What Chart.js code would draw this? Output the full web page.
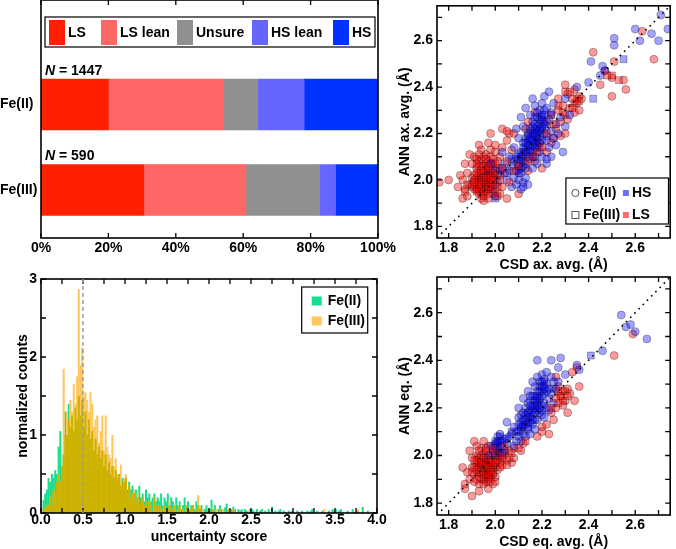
<!DOCTYPE html>
<html>
<head>
<meta charset="utf-8">
<script src="https://cdn.jsdelivr.net/npm/chart.js@4.4.1/dist/chart.umd.min.js"></script>
<style>
  html, body { margin: 0; padding: 0; background: #fff; }
  #wrap { position: relative; width: 676px; height: 549px; overflow: hidden; }
  canvas { position: absolute; }
</style>
</head>
<body>
<div id="wrap">
  <canvas id="spinChart" width="400" height="270" style="left:0;top:0"></canvas>
  <canvas id="scoreChart" width="390" height="279" style="left:0;top:270px"></canvas>
  <canvas id="axChart" width="296" height="280" style="left:380px;top:0"></canvas>
  <canvas id="eqChart" width="296" height="279" style="left:380px;top:270px"></canvas>
</div>
<script>
// ---- spin-state split (percent of each set) ----
const rows = ['Fe(II)', 'Fe(III)'];
const rowCounts = [1447, 590];
const spinClasses = ['LS', 'LS lean', 'Unsure', 'HS lean', 'HS'];
const lsShare = [20.0, 30.5];
const lsLeanShare = [33.9, 30.3];
const unsureShare = [10.4, 21.9];
const hsLeanShare = [13.8, 4.7];
const hsShare = [21.9, 12.6];
const shareTicks = [0, 20, 40, 60, 80, 100];

// ---- uncertainty histogram, bins of 0.02 from 0 to 4 ----
const scoreBinWidth = 0.02;
const scoreCutoff = 0.5;
const scoreTicks = [0, 0.25, 0.5, 0.75, 1, 1.25, 1.5, 1.75, 2, 2.25, 2.5, 2.75, 3, 3.25, 3.5, 3.75, 4];
const countTicks = [0, 0.5, 1, 1.5, 2, 2.5, 3];
const fe2Hist = [
  0, 0.17, 0.25, 0.3, 0.45, 0.4, 0.5, 0.45, 0.55, 0.5,
  0.85, 1.05, 0.6, 0.75, 1.3, 1.0, 1.4, 1.1, 1.25, 1.05,
  1.35, 1.2, 1.5, 1.25, 1.45, 1.1, 1.3, 1.0, 1.2, 0.95,
  1.05, 0.8, 0.95, 0.75, 0.85, 0.7, 0.8, 0.6, 0.75, 0.55,
  0.65, 0.5, 0.6, 0.45, 0.55, 0.45, 0.5, 0.35, 0.45, 0.4,
  0.45, 0.3, 0.4, 0.3, 0.35, 0.25, 0.3, 0.2, 0.35, 0.2,
  0.25, 0.15, 0.3, 0.2, 0.25, 0.15, 0.2, 0.25, 0.15, 0.2,
  0.15, 0.25, 0.1, 0.2, 0.15, 0.25, 0.1, 0.2, 0.15, 0.1,
  0.2, 0.1, 0.15, 0.05, 0.1, 0.2, 0.1, 0.15, 0.05, 0.1,
  0.1, 0.05, 0.15, 0.1, 0.05, 0.1, 0, 0.05, 0.1, 0.05,
  0.05, 0.17, 0.05, 0.1, 0, 0.05, 0.1, 0.05, 0, 0.07,
  0.12, 0.05, 0, 0.05, 0.08, 0.05, 0, 0.05, 0.03, 0.05,
  0, 0.05, 0.03, 0, 0.05, 0.05, 0.03, 0, 0.05, 0,
  0.03, 0.05, 0, 0.03, 0, 0.05, 0, 0.08, 0, 0.03,
  0, 0.03, 0.05, 0, 0.03, 0, 0, 0.03, 0, 0.03,
  0, 0, 0.03, 0, 0, 0.03, 0, 0, 0.03, 0,
  0.03, 0.05, 0, 0, 0.03, 0, 0, 0.03, 0, 0,
  0, 0.03, 0, 0.05, 0.03, 0.05, 0, 0.03, 0.05, 0,
  0, 0, 0.03, 0, 0, 0.05, 0, 0, 0.03, 0,
  0, 0.08, 0, 0, 0.03, 0, 0, 0, 0, 0
];
const fe3Hist = [
  0, 0.05, 0.05, 0.1, 0.1, 0.2, 0.1, 0.3, 0.25, 0.4,
  0.5, 0.4, 0.6, 1.85, 1.0, 1.3, 1.2, 1.45, 1.3, 1.65,
  1.4, 1.75, 2.87, 1.9, 2.12, 1.5, 1.55, 1.45, 1.3, 1.55,
  1.4, 1.1, 1.2, 1.25, 0.9, 1.05, 1.25, 0.8, 1.25, 0.85,
  0.75, 0.7, 1.0, 0.6, 0.7, 0.5, 0.5, 0.62, 0.4, 0.45,
  0.5, 0.25, 0.35, 0.2, 0.25, 0.3, 0.15, 0.25, 0.1, 0.15,
  0.2, 0.1, 0.15, 0.05, 0.15, 0.1, 0, 0.2, 0.1, 0.05,
  0.1, 0, 0.05, 0.1, 0, 0.05, 0.15, 0, 0.05, 0.1,
  0, 0.05, 0.1, 0, 0.05, 0, 0.1, 0.05, 0, 0.05,
  0.1, 0, 0.05, 0.23, 0.1, 0, 0.05, 0, 0, 0.05,
  0, 0, 0.05, 0, 0.05, 0, 0.05, 0, 0.05, 0,
  0, 0.05, 0, 0, 0.05, 0, 0, 0, 0, 0,
  0, 0, 0, 0.03, 0, 0, 0, 0, 0, 0,
  0, 0, 0, 0, 0, 0, 0, 0, 0, 0,
  0, 0, 0, 0, 0, 0, 0, 0, 0, 0,
  0, 0, 0, 0, 0, 0, 0, 0, 0, 0,
  0, 0, 0, 0, 0, 0, 0, 0, 0.05, 0,
  0, 0, 0, 0, 0, 0, 0, 0, 0, 0,
  0, 0, 0, 0, 0, 0, 0, 0, 0.05, 0,
  0, 0, 0, 0, 0, 0, 0, 0, 0, 0
];

// ---- bond lengths: [CSD, ANN] in Angstrom ----
const bondRange = [1.75, 2.75];
const bondTicks = [1.8, 1.9, 2.0, 2.1, 2.2, 2.3, 2.4, 2.5, 2.6, 2.7];

const axHsII = [
  [2.06,2.04],[2.08,2.01],[2.09,1.98],[2.10,2.00],[2.11,2.03],[2.12,1.99],[2.10,2.06],[2.08,2.08],[2.12,2.08],[2.13,2.05],
  [2.14,2.10],[2.11,2.12],[2.09,2.10],[2.13,2.14],[2.15,2.12],[2.16,2.15],[2.14,2.17],[2.12,2.16],[2.17,2.10],[2.18,2.14],
  [2.16,2.19],[2.18,2.18],[2.19,2.21],[2.17,2.22],[2.15,2.21],[2.20,2.17],[2.21,2.20],[2.19,2.24],[2.20,2.26],[2.22,2.23],
  [2.18,2.27],[2.21,2.28],[2.23,2.26],[2.22,2.31],[2.20,2.33],[2.19,2.30],[2.24,2.29],[2.16,2.25],[2.14,2.20],[2.13,2.18],
  [2.17,2.16],[2.15,2.09],[2.19,2.12],[2.22,2.17],[2.24,2.21],[2.25,2.18],[2.23,2.14],[2.20,2.10],[2.18,2.07],[2.16,2.05],
  [2.21,2.36],[2.23,2.38],[2.25,2.33],[2.17,2.32],[2.15,2.28],[2.12,2.23],[2.10,2.18],[2.08,2.14],[2.06,2.10],[2.04,2.07],
  [2.02,2.02],[2.03,2.05],[2.01,1.99],[2.00,2.04],[2.05,2.00],[2.07,1.97],[2.11,1.96],[2.13,2.01],[2.26,2.24],[2.27,2.20],
  [2.28,2.27],[2.30,2.23],[2.26,2.15],[2.24,2.10],[2.22,2.07],[2.14,1.98],[2.09,2.22],[2.11,2.27],[2.13,2.31],[2.16,2.35],
  [2.03,2.12],[1.98,2.07],[1.97,2.02],[1.99,1.96],[2.00,1.93],[2.15,2.15],[2.17,2.19],[2.19,2.16],[2.12,2.11],[2.10,2.09],
  [2.14,2.13],[2.18,2.21],[2.20,2.23],[2.16,2.12],[2.13,2.07],[2.11,2.05],[2.21,2.25],[2.17,2.27],[2.19,2.19],[2.15,2.17],
  [2.29,2.12],[2.22,2.09],[2.18,2.15],[2.12,1.97],[2.05,2.03],[2.07,2.06],
  [2.15,2.13],[2.17,2.14],[2.16,2.17],[2.18,2.20],[2.19,2.22],[2.14,2.15],[2.12,2.14],[2.20,2.22],[2.21,2.24],[2.18,2.23],
  [2.16,2.23],[2.13,2.12],[2.11,2.10],[2.10,2.11],[2.14,2.19],[2.17,2.24],[2.19,2.26],[2.21,2.30],[2.20,2.28],[2.18,2.29],
  [2.15,2.18],[2.17,2.20],[2.13,2.16],[2.16,2.10],[2.12,2.06],[2.10,2.03],[2.09,2.04],[2.11,2.08],[2.19,2.14],[2.22,2.19],
  [2.35,2.40],[2.40,2.42],[2.41,2.51],[2.45,2.45],[2.46,2.49],[2.47,2.47],[2.51,2.61],[2.51,2.58],[2.60,2.65],[2.62,2.60],
  [2.67,2.63],[2.70,2.60],[2.71,2.71],[2.74,2.65],[2.32,2.28],[2.30,2.35]
];
const axLsII = [
  [1.92,1.98],[1.94,2.00],[1.95,1.97],[1.96,2.02],[1.97,1.99],[1.98,2.04],[1.93,2.03],[1.95,2.06],[1.97,2.08],[1.99,2.01],
  [2.00,1.98],[1.96,1.95],[1.94,1.94],[1.91,1.96],[1.93,2.08],[1.96,2.11],[1.98,2.13],[1.95,2.10],[1.99,2.07],[2.01,2.05],
  [2.02,2.10],[2.00,2.12],[1.92,2.05],[1.90,2.01],[1.89,1.98],[1.88,2.03],[1.90,2.07],[1.87,1.96],[1.86,2.00],[1.88,1.93],
  [1.91,2.10],[1.94,2.13],[1.97,2.16],[2.00,2.15],[2.03,2.14],[2.04,2.03],[2.03,1.97],[2.02,1.94],[1.99,1.94],[1.97,1.92],
  [1.85,2.02],[1.87,2.07],[1.89,2.11],[1.84,1.97],[1.93,2.15],[2.05,2.17],[2.07,2.13],[2.06,2.20],[1.76,1.99],[1.80,2.00],
  [1.86,1.92],[1.95,1.91],[2.10,1.94],[2.05,1.92],[1.98,2.20],[2.08,2.20],[2.03,2.22],[2.05,2.21],[1.93,2.06],[1.96,2.04],
  [1.94,2.09],[1.98,2.10],[1.92,2.01],[1.95,2.03],[1.97,1.97],[2.01,2.08],
  [1.93,1.99],[1.95,2.00],[1.96,1.98],[1.94,2.02],[1.97,2.01],[1.98,2.02],[1.95,2.04],[1.96,2.07],[1.94,2.06],[1.92,2.03],
  [1.97,2.05],[1.99,2.05],[1.98,2.07],[1.96,2.09],[1.93,2.11],[1.91,2.00],[1.90,1.98],[1.92,1.96],[1.94,1.96],[1.97,1.94],
  [2.00,2.00],[2.01,2.02],[1.95,1.99],[1.93,1.94],[1.99,2.09],[1.96,2.00],[1.98,1.97],[1.92,2.09],[2.00,2.07],[1.94,1.92],
  [2.22,2.25],[2.24,2.28],[2.26,2.22],[2.27,2.30],[2.28,2.25],[2.29,2.32],[2.30,2.28],[2.31,2.26],[2.32,2.31],[2.33,2.35],
  [2.34,2.29],[2.35,2.33],[2.36,2.30],[2.30,2.41],[2.34,2.39],[2.36,2.36],[2.27,2.35],[2.31,2.37],[2.25,2.18],[2.28,2.19],[2.30,2.20],
  [2.13,2.22],[2.19,2.16],[2.24,2.16],[2.17,2.08],[2.22,2.12],[2.10,2.07],[2.14,2.04],[2.20,2.05],[2.16,2.20],[2.12,2.10],[2.14,2.25],[2.17,2.29],
  [2.42,2.55],[2.63,2.64],[2.68,2.52],[2.50,2.44],[2.51,2.51],[2.50,2.36],[2.55,2.43],[2.56,2.39],[2.47,2.47],[2.45,2.41],[2.37,2.35]
];
const axLsIII = [
  [1.90,1.97],[1.92,1.95],[1.94,1.97],[1.96,1.99],[1.98,1.96],[2.00,1.95],[2.01,1.97],[1.95,1.93],[1.93,2.00],[1.97,2.02],
  [1.99,2.03],[2.02,2.00],[1.88,1.98],[1.87,1.95],[1.91,2.02],[1.96,1.96],[1.98,1.99],[2.00,2.02],[2.03,2.05],[1.94,2.04],
  [1.92,2.07],[1.97,2.06],[2.05,2.08],[2.08,2.04],[2.10,2.06],[2.14,2.08],[2.18,2.12],[2.20,2.14],[2.16,2.10],[2.06,1.99],
  [1.95,2.01],[1.99,1.98],[1.93,1.96],[2.01,1.93],[1.94,1.99],[1.96,2.01],[1.98,2.01],[1.93,1.98],[1.95,1.95],[1.97,1.97],
  [1.99,2.00],[1.91,1.99],
  [2.30,2.38],[2.32,2.38],[2.35,2.35],[2.34,2.33],[2.33,2.31],[2.27,2.32],[2.29,2.29],[2.25,2.24],[2.22,2.20],[2.50,2.45],
  [2.53,2.43],[2.48,2.45],[2.36,2.34]
];
const axHsIII = [
  [2.00,1.92],[1.96,2.05],[2.02,2.04],[2.12,2.12],[2.18,2.17],[2.15,2.22],[2.20,2.27],[2.55,2.52],[2.42,2.35],[2.24,2.28],
  [2.10,2.04],[2.07,2.09]
];

const eqHsII = [
  [1.99,2.02],[2.00,2.05],[2.01,2.03],[2.02,2.06],[2.03,2.04],[2.01,2.08],[2.04,2.07],[2.00,2.00],[2.03,2.01],[1.98,2.04],
  [2.05,2.05],[2.02,2.09],[1.97,2.00],[2.04,2.02],[2.00,2.03],[2.02,2.01],[2.01,2.05],[2.02,2.04],[2.00,2.04],[2.03,2.06],
  [2.01,2.06],
  [2.09,2.10],[2.10,2.13],[2.11,2.11],[2.12,2.15],[2.13,2.13],[2.11,2.17],[2.14,2.16],[2.15,2.19],[2.13,2.20],[2.16,2.17],
  [2.17,2.21],[2.15,2.23],[2.18,2.19],[2.19,2.23],[2.17,2.25],[2.20,2.21],[2.18,2.27],[2.20,2.29],[2.19,2.31],[2.21,2.26],
  [2.22,2.30],[2.21,2.32],[2.23,2.28],[2.17,2.29],[2.16,2.31],[2.14,2.27],[2.12,2.24],[2.10,2.20],[2.12,2.09],[2.14,2.11],
  [2.16,2.13],[2.18,2.15],[2.20,2.17],[2.22,2.20],[2.23,2.24],[2.19,2.18],[2.15,2.14],[2.13,2.08],[2.11,2.06],[2.09,2.06],
  [2.08,2.12],[2.10,2.16],[2.07,2.09],[2.17,2.11],[2.21,2.22],[2.24,2.26],[2.25,2.31],[2.20,2.34],[2.18,2.33],[2.22,2.35],
  [2.15,2.09],[2.12,2.18],[2.14,2.22],[2.16,2.25],[2.18,2.22],[2.20,2.25],[2.13,2.17],[2.11,2.14],[2.17,2.18],[2.19,2.27],
  [2.24,2.33],[2.26,2.28],[2.21,2.16],[2.23,2.19],[2.08,2.04],[2.06,2.08],[2.25,2.22],[2.16,2.21],[2.18,2.24],[2.20,2.19],
  [2.14,2.14],[2.12,2.12],[2.19,2.29],[2.22,2.27],[2.15,2.25],[2.17,2.15],
  [2.15,2.16],[2.16,2.19],[2.17,2.20],[2.18,2.21],[2.19,2.24],[2.20,2.27],[2.21,2.29],[2.14,2.18],[2.13,2.15],[2.12,2.13],
  [2.17,2.23],[2.18,2.25],[2.19,2.20],[2.16,2.15],[2.14,2.12],[2.11,2.12],[2.10,2.10],[2.15,2.21],[2.21,2.28],[2.20,2.31],
  [2.18,2.40],[2.24,2.40],[2.28,2.41],[2.35,2.38],[2.36,2.36],[2.46,2.44],[2.54,2.59],[2.56,2.54],[2.58,2.55],[2.60,2.52],
  [2.65,2.49],[2.30,2.34],[2.27,2.37],[2.05,2.14],[2.27,2.31]
];
const eqLsII = [
  [1.92,1.96],[1.94,1.98],[1.95,1.94],[1.96,1.97],[1.97,2.00],[1.93,1.93],[1.95,2.01],[1.98,1.95],[1.99,1.98],[1.96,1.92],
  [1.94,1.90],[1.91,1.92],[1.90,1.95],[1.92,2.00],[1.94,2.03],[1.97,2.04],[2.00,1.97],[2.01,1.94],[1.98,1.91],[1.93,1.88],
  [1.89,1.90],[1.88,1.93],[1.90,1.99],[1.92,2.04],[1.95,2.06],[2.02,1.99],[2.03,1.96],[2.04,2.01],[2.05,1.98],[2.00,1.91],
  [1.87,1.88],[1.87,1.86],[1.90,1.83],[1.86,1.95],[1.89,2.02],[1.91,2.06],[1.96,1.89],[2.06,2.02],[2.07,1.97],[2.08,2.03],
  [1.99,1.88],[1.97,1.86],[1.93,1.85],[1.95,1.96],[1.97,1.93],[1.93,1.99],[1.99,1.95],[2.01,2.00],[1.91,1.89],[1.96,2.03],
  [1.93,1.95],[1.95,1.97],[1.96,1.95],[1.94,1.96],[1.97,1.98],[1.98,1.97],[1.95,1.93],[1.93,1.91],[1.96,1.99],[1.94,2.00],
  [1.92,1.98],[1.91,1.95],[1.97,1.91],[1.99,1.92],[2.00,1.95],[1.98,1.93],[1.95,1.88],[1.92,1.90],[1.96,1.94],[2.02,1.97],
  [1.90,1.93],[1.94,1.93],[2.03,1.99],[1.99,2.01],
  [2.12,2.05],[2.11,2.02],[2.18,2.08],[2.23,2.09],[2.20,2.12],[2.24,2.18],[2.26,2.20],[2.28,2.25],[2.29,2.27],[2.27,2.29],
  [2.30,2.23],[2.31,2.28],[2.32,2.26],[2.34,2.23],[2.36,2.29],[2.31,2.18],[2.29,2.21],[2.26,2.33],[2.33,2.35],[2.25,2.15],
  [2.22,2.13],[2.51,2.42],[2.59,2.51],[2.35,2.37],[2.20,2.10],[2.08,1.99]
];
const eqLsIII = [
  [1.93,1.97],[1.95,1.99],[1.97,1.95],[1.99,1.93],[1.96,1.91],[1.94,1.95],[1.98,1.98],[2.00,2.01],[1.92,1.94],[1.97,1.89],
  [1.95,1.90],[1.99,1.96],[2.01,1.98],[2.02,1.95],[1.91,1.98],[1.93,2.02],[2.03,2.00],[2.05,1.96],[1.96,2.02],[1.99,2.03],
  [2.04,2.04],[2.06,1.99],[2.07,2.01],[1.98,1.90],[2.00,1.89],[1.94,1.97],[1.96,1.96],[1.98,1.94],[1.95,1.92],[1.97,1.92],
  [2.00,1.97],
  [2.27,2.27],[2.28,2.25],[2.30,2.27],[2.29,2.23],[2.27,2.22],[2.31,2.25],[2.26,2.24],[2.24,2.20],[2.10,2.03],[2.13,2.06]
];
const eqHsIII = [
  [2.00,2.06],[2.02,2.08],[2.01,2.01],[2.05,2.07],[2.07,2.10],[2.41,2.42],[2.21,2.31],[2.14,2.18],[2.25,2.28],[2.10,2.08]
];

// ---- shared look ----
const FONT = "'Liberation Sans', Arial, sans-serif";
Chart.defaults.font.family = FONT;
Chart.defaults.font.size = 14;
Chart.defaults.font.weight = 'bold';
Chart.defaults.color = '#000';
Chart.defaults.animation = false;
Chart.defaults.plugins.legend.display = false;
Chart.defaults.plugins.tooltip.enabled = false;

const tickFont = { size: 14, weight: 'bold', lineHeight: 1 };
const titleFont = { size: 14, weight: 'bold', lineHeight: 1 };
const noGrid = { display: false, drawTicks: false };

const spinColors = ['#FF2000', '#FF6666', '#909090', '#6666FF', '#0033FF'];
const fe2Color = '#17DE8E';
const fe3Color = '#FFC65C';
const bothColor = '#CBB300';

function fixSize(prop, size) {
  return s => {
    s[prop] = size;
    s.paddingTop = 0; s.paddingBottom = 0; s.paddingLeft = 0; s.paddingRight = 0;
  };
}
function setTicks(values) {
  return s => { s.ticks = values.map(value => ({ value })); };
}
const near = (v, k) => Math.abs(v * k - Math.round(v * k)) < 1e-6;

// box with inward ticks on all four sides
const framePlugin = {
  id: 'frame',
  afterDatasetsDraw(chart, args, opts) {
    const { ctx, chartArea: a } = chart;
    ctx.save();
    ctx.strokeStyle = '#000';
    ctx.lineWidth = 1.3;
    ctx.beginPath();
    if (opts.x) {
      const sx = chart.scales.x;
      sx.ticks.forEach(t => {
        const p = sx.getPixelForValue(t.value);
        ctx.moveTo(p, a.bottom); ctx.lineTo(p, a.bottom - 5);
        ctx.moveTo(p, a.top); ctx.lineTo(p, a.top + 5);
      });
    }
    if (opts.y) {
      const sy = chart.scales.y;
      sy.ticks.forEach(t => {
        const p = sy.getPixelForValue(t.value);
        ctx.moveTo(a.left, p); ctx.lineTo(a.left + 5, p);
        ctx.moveTo(a.right, p); ctx.lineTo(a.right - 5, p);
      });
    }
    ctx.stroke();
    ctx.lineWidth = 1.6;
    ctx.strokeRect(a.left, a.top, a.width, a.height);
    ctx.restore();
  }
};

// ---- top left: stacked spin-state bars ----
const spinShares = [lsShare, lsLeanShare, unsureShare, hsLeanShare, hsShare];

const spinLabelPlugin = {
  id: 'spinLabels',
  afterDatasetsDraw(chart) {
    const { ctx, chartArea: a } = chart;
    const bars = chart.getDatasetMeta(0).data;
    ctx.save();
    ctx.fillStyle = '#000';
    ctx.textBaseline = 'middle';
    bars.forEach((bar, i) => {
      const y = bar.y - bar.height / 2 - 8;
      ctx.font = 'italic bold 14px ' + FONT;
      ctx.fillText('N', a.left + 4, y);
      const w = ctx.measureText('N').width;
      ctx.font = 'bold 14px ' + FONT;
      ctx.fillText(' = ' + rowCounts[i], a.left + 4 + w, y);
      // row name beside its bar
      ctx.fillText(rows[i], chart.scales.y.left, bar.y);
    });
    ctx.restore();
  },
  afterDraw(chart) {
    const { ctx, chartArea: a } = chart;
    const slots = [8, 60, 136, 211, 292];
    ctx.save();
    ctx.fillStyle = '#fff';
    ctx.fillRect(a.left + 4, a.top + 17, 330, 30);
    ctx.strokeStyle = '#000';
    ctx.lineWidth = 1.2;
    ctx.strokeRect(a.left + 4, a.top + 17, 330, 30);
    ctx.font = 'bold 14px ' + FONT;
    ctx.textBaseline = 'middle';
    chart.data.datasets.forEach((ds, i) => {
      const x = a.left + slots[i];
      ctx.fillStyle = ds.backgroundColor;
      ctx.fillRect(x, a.top + 20, 16, 25);
      ctx.fillStyle = '#000';
      ctx.fillText(ds.label, x + 19, a.top + 33);
    });
    ctx.restore();
  }
};

new Chart(document.getElementById('spinChart'), {
  type: 'bar',
  data: {
    datasets: spinClasses.map((label, k) => ({
      label,
      data: spinShares[k].map((v, i) => ({ x: v, y: i + 1 })),
      backgroundColor: spinColors[k],
      borderWidth: 0,
      barThickness: 51
    }))
  },
  options: {
    indexAxis: 'y',
    responsive: false,
    layout: { padding: { top: 0, right: 22, left: 0, bottom: 0 } },
    scales: {
      x: {
        type: 'linear', stacked: true, min: 0, max: 100,
        afterBuildTicks: setTicks(shareTicks),
        afterFit: fixSize('height', 32),
        ticks: { autoSkip: false, maxRotation: 0, padding: 3, font: tickFont, callback: v => v + '%' },
        grid: noGrid, border: { display: false }
      },
      y: {
        type: 'linear', stacked: true, reverse: true, offset: false, min: -0.222, max: 2.561,
        afterBuildTicks: setTicks(rows.map((r, i) => i + 1)),
        afterFit: fixSize('width', 41),
        ticks: { display: false },
        grid: noGrid, border: { display: false }
      }
    },
    plugins: { frame: { x: true, y: false } }
  },
  plugins: [framePlugin, spinLabelPlugin]
});

// ---- bottom left: uncertainty histogram ----
const binCenters = fe2Hist.map((_, i) => +((i + 0.5) * scoreBinWidth).toFixed(3));
const histBar = (label, values, color) => ({
  label,
  data: binCenters.map((x, i) => ({ x, y: values[i] })),
  backgroundColor: color,
  borderWidth: 0,
  grouped: false,
  categoryPercentage: 1,
  barPercentage: 1.2
});

const scorePlugin = {
  id: 'scoreExtras',
  afterDatasetsDraw(chart) {
    const { ctx, chartArea: a, scales } = chart;
    const px = scales.x.getPixelForValue(scoreCutoff);
    ctx.save();
    ctx.strokeStyle = '#9a9a9a';
    ctx.lineWidth = 1.5;
    ctx.setLineDash([4, 3]);
    ctx.beginPath();
    ctx.moveTo(px, a.top);
    ctx.lineTo(px, a.bottom);
    ctx.stroke();
    ctx.restore();
  },
  afterDraw(chart) {
    const { ctx, chartArea: a } = chart;
    const bx = a.right - 75.3, by = a.top + 8;
    ctx.save();
    ctx.fillStyle = '#fff';
    ctx.fillRect(bx, by, 66, 46);
    ctx.strokeStyle = '#000';
    ctx.lineWidth = 1.2;
    ctx.strokeRect(bx, by, 66, 46);
    ctx.font = 'bold 14px ' + FONT;
    ctx.textBaseline = 'middle';
    [[rows[0], fe2Color], [rows[1], fe3Color]].forEach(([label, color], i) => {
      const cy = by + 14 + i * 20;
      ctx.fillStyle = color;
      ctx.fillRect(bx + 10, cy - 4.5, 10, 9);
      ctx.fillStyle = '#000';
      ctx.fillText(label, bx + 26, cy);
    });
    ctx.restore();
  }
};

new Chart(document.getElementById('scoreChart'), {
  type: 'bar',
  data: {
    datasets: [
      histBar('both', fe2Hist.map((v, i) => Math.min(v, fe3Hist[i])), bothColor),
      histBar(rows[1], fe3Hist, fe3Color),
      histBar(rows[0], fe2Hist, fe2Color)
    ]
  },
  options: {
    responsive: false,
    layout: { padding: { top: 9, right: 13, left: 0, bottom: 0 } },
    scales: {
      x: {
        type: 'linear', offset: false, min: 0, max: 4,
        afterBuildTicks: setTicks(scoreTicks),
        afterFit: fixSize('height', 36),
        ticks: { autoSkip: false, maxRotation: 0, padding: 0, font: tickFont, callback: v => near(v, 2) ? v.toFixed(1) : '' },
        grid: noGrid, border: { display: false },
        title: { display: true, text: 'uncertainty score', font: titleFont, padding: { top: 0, bottom: 5 } }
      },
      y: {
        type: 'linear', min: 0, max: 3,
        afterBuildTicks: setTicks(countTicks),
        afterFit: fixSize('width', 41),
        ticks: { padding: 4, font: tickFont, callback: v => near(v, 1) ? String(Math.round(v)) : '' },
        grid: noGrid, border: { display: false },
        title: { display: true, text: 'normalized counts', font: titleFont, padding: { top: 16, bottom: 0 } }
      }
    },
    plugins: { frame: { x: true, y: true } }
  },
  plugins: [framePlugin, scorePlugin]
});

// ---- right: ANN vs CSD bond lengths ----
const bondLegendPlugin = {
  id: 'bondLegend',
  afterDraw(chart, args, opts) {
    if (!opts.show) return;
    const { ctx, chartArea: a } = chart;
    const bx = a.right - 104.3, by = a.bottom - 60;
    ctx.save();
    ctx.fillStyle = '#fff';
    ctx.fillRect(bx, by, 102.6, 46);
    ctx.strokeStyle = '#000';
    ctx.lineWidth = 1.2;
    ctx.strokeRect(bx, by, 102.6, 46);
    ctx.font = 'bold 14px ' + FONT;
    ctx.textBaseline = 'middle';
    const r1 = by + 15, r2 = by + 37;
    ctx.strokeStyle = '#555';
    ctx.lineWidth = 1;
    ctx.beginPath();
    ctx.arc(bx + 9.5, r1, 3.6, 0, Math.PI * 2);
    ctx.stroke();
    ctx.strokeRect(bx + 6, r2 - 3.5, 7, 7);
    ctx.fillStyle = '#000';
    ctx.fillText(rows[0], bx + 17, r1);
    ctx.fillText(rows[1], bx + 17, r2);
    ctx.fillStyle = 'rgba(60,60,255,0.75)';
    ctx.fillRect(bx + 57, r1 - 3, 6, 6);
    ctx.fillStyle = 'rgba(255,60,60,0.75)';
    ctx.fillRect(bx + 57, r2 - 3, 6, 6);
    ctx.fillStyle = '#000';
    ctx.fillText(spinClasses[4], bx + 66, r1);
    ctx.fillText(spinClasses[0], bx + 66, r2);
    ctx.restore();
  }
};

function bondAxis(isX, title, titlePad, size) {
  return {
    type: 'linear', min: bondRange[0], max: bondRange[1],
    afterBuildTicks: setTicks(bondTicks),
    afterFit: fixSize(isX ? 'height' : 'width', size),
    ticks: { autoSkip: false, maxRotation: 0, padding: isX ? 3 : 4, font: tickFont, callback: v => near(v, 5) ? v.toFixed(1) : '' },
    grid: noGrid, border: { display: false },
    title: { display: true, text: title, font: titleFont, padding: isX ? { top: 0, bottom: titlePad } : { top: titlePad, bottom: 0 } }
  };
}

function bondChart(id, sets, xTitle, yTitle, opts) {
  const [hsII, lsII, lsIII, hsIII] = sets;
  const mark = (list, style, fill, r) => ({
    type: 'scatter',
    data: list.map(([x, y]) => ({ x, y })),
    pointStyle: style,
    pointRadius: r,
    backgroundColor: fill,
    borderColor: 'rgba(0,0,0,0.32)',
    borderWidth: 0.9
  });
  return new Chart(document.getElementById(id), {
    type: 'scatter',
    data: {
      datasets: [
        { type: 'line', data: bondRange.map(v => ({ x: v, y: v })), borderColor: '#000', borderWidth: 1.6,
          borderDash: [1.6, 4.4], pointRadius: 0, fill: false },
        mark(lsIII, 'rect', 'rgba(255,0,0,0.4)', 4.9),
        mark(hsII, 'circle', 'rgba(0,0,255,0.36)', 4.0),
        mark(lsII, 'circle', 'rgba(255,0,0,0.4)', 4.0),
        mark(hsIII, 'rect', 'rgba(0,0,255,0.36)', 4.9)
      ]
    },
    options: {
      responsive: false,
      layout: { padding: { top: opts.top, right: 1, left: 0, bottom: 0 } },
      scales: {
        x: bondAxis(true, xTitle, opts.xTitlePad, opts.xAxisHeight),
        y: bondAxis(false, yTitle, 18, 57)
      },
      plugins: { frame: { x: true, y: true }, bondLegend: { show: opts.legend } }
    },
    plugins: [framePlugin, bondLegendPlugin]
  });
}

bondChart('axChart', [axHsII, axLsII, axLsIII, axHsIII], 'CSD ax. avg. (Å)', 'ANN ax. avg. (Å)',
  { top: 0, xTitlePad: 8, xAxisHeight: 42, legend: true });
bondChart('eqChart', [eqHsII, eqLsII, eqLsIII, eqHsIII], 'CSD eq. avg. (Å)', 'ANN eq. (Å)',
  { top: 7, xTitlePad: 0, xAxisHeight: 34, legend: false });
</script>
</body>
</html>
